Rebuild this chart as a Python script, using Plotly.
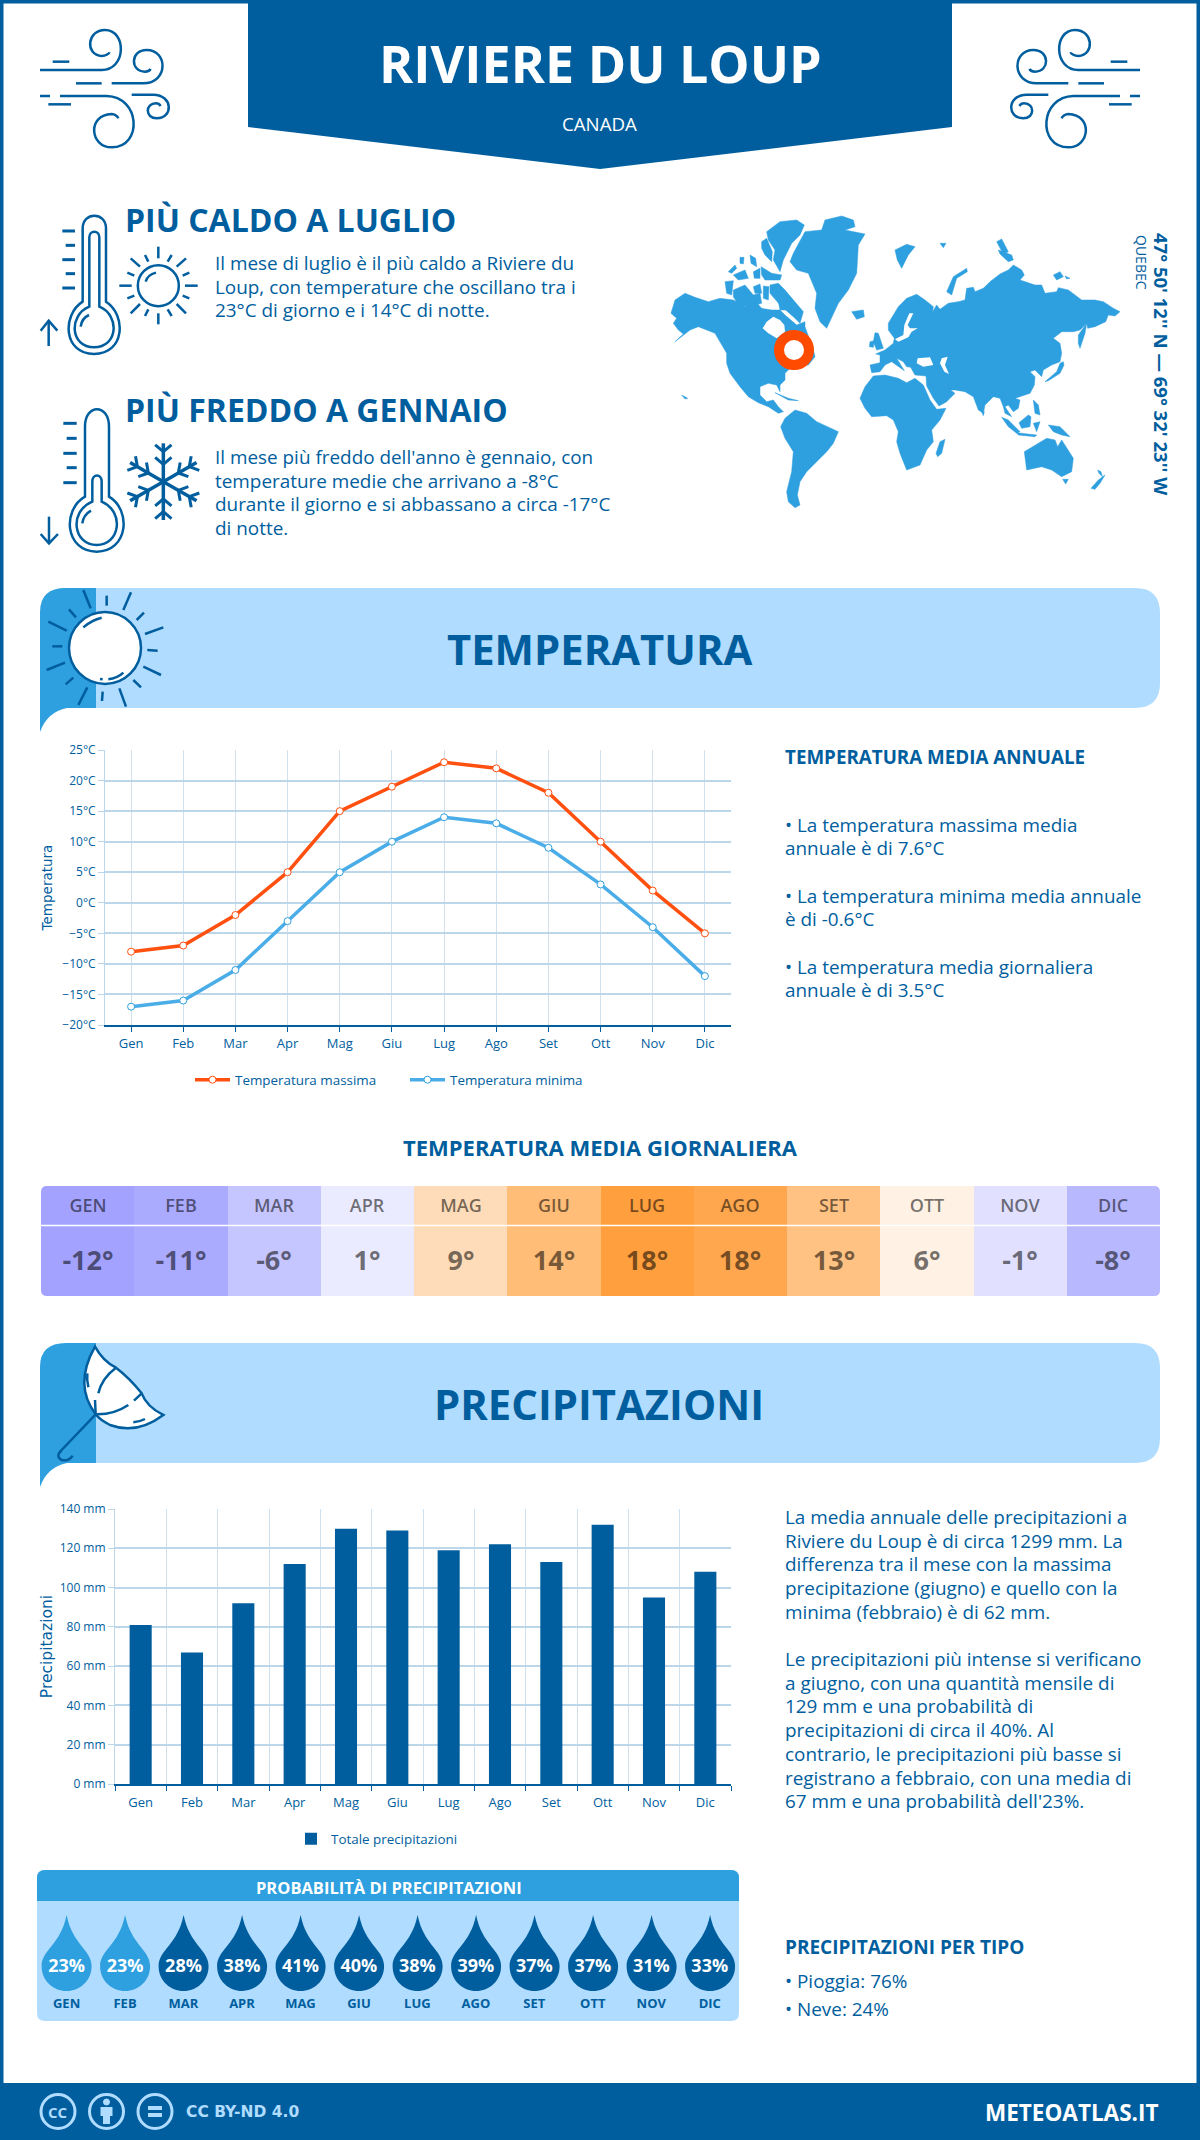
import math
import re
import plotly.graph_objects as go

W, H = 1200, 2140
BLUE = '#005e9e'
MID = '#2e9fdf'
LIGHT = '#b0dcff'
GRID = '#bcd6ea'
FONT = 'Open Sans'

months = ['Gen', 'Feb', 'Mar', 'Apr', 'Mag', 'Giu', 'Lug', 'Ago', 'Set', 'Ott', 'Nov', 'Dic']
months_upper = ['GEN', 'FEB', 'MAR', 'APR', 'MAG', 'GIU', 'LUG', 'AGO', 'SET', 'OTT', 'NOV', 'DIC']
temp_max = [-8, -7, -2, 5, 15, 19, 23, 22, 18, 10, 2, -5]
temp_min = [-17, -16, -11, -3, 5, 10, 14, 13, 9, 3, -4, -12]
temp_mean = [-12, -11, -6, 1, 9, 14, 18, 18, 13, 6, -1, -8]
cell_colors = ['#a3a3ff', '#aaaaff', '#c5c5ff', '#ebebff', '#ffdcb9', '#ffbd78',
               '#ff9f3e', '#ffa74e', '#ffc283', '#fff1e3', '#e1e1ff', '#b8b8ff']
rain_mm = [81, 67, 92, 112, 130, 129, 119, 122, 113, 132, 95, 108]
rain_prob = [23, 23, 28, 38, 41, 40, 38, 39, 37, 37, 31, 33]


def X(x):
    return x / W


def Y(y):
    return 1 - y / H


# path written in zoomed crop coordinates -> paper coordinates
def conv(d, ox=0, oy=0, s=1, mirror=None):
    def rep(m):
        x = ox + float(m.group(1)) / s
        y = oy + float(m.group(2)) / s
        if mirror is not None:
            x = mirror - x
        return f'{X(x):.5f},{Y(y):.5f}'
    return re.sub(r'(-?[\d.]+),(-?[\d.]+)', rep, d)


shapes = []
annotations = []


def fill(d, color, ox=0, oy=0, s=1, layer='below'):
    shapes.append(dict(type='path', xref='paper', yref='paper', path=conv(d, ox, oy, s),
                       fillcolor=color, line=dict(width=0), layer=layer))


def stroke(d, ox=0, oy=0, s=1, width=2.5, color=BLUE, bg=None, mirror=None):
    shapes.append(dict(type='path', xref='paper', yref='paper', path=conv(d, ox, oy, s, mirror),
                       fillcolor=bg if bg else 'rgba(0,0,0,0)', line=dict(color=color, width=width),
                       layer='below'))


def circle(cx, cy, r, width=2.5, color=BLUE, bg='rgba(0,0,0,0)', layer='below'):
    shapes.append(dict(type='circle', xref='paper', yref='paper', x0=X(cx - r), x1=X(cx + r),
                       y0=Y(cy + r), y1=Y(cy - r), fillcolor=bg, line=dict(color=color, width=width),
                       layer=layer))


def txt(x, y, text, size=18.9, color=BLUE, weight=400, anchor='left', angle=0, family=FONT):
    annotations.append(dict(xref='paper', yref='paper', x=X(x), y=Y(y), text=text, showarrow=False,
                            xanchor=anchor, yanchor='middle', align=anchor,
                            textangle=angle, borderpad=0, borderwidth=0,
                            font=dict(family=family, size=size, color=color, weight=weight)))


# paragraph, one annotation per line so the line step can follow the picture
def para(x, y, lines, step=23.6):
    for i, line in enumerate(lines):
        txt(x, y + i * step, line)


def segs(lines, ox, oy, s, width=2.5):
    for a, b in lines:
        stroke(f'M{a[0]},{a[1]} L{b[0]},{b[1]}', ox, oy, s, width)


def rrect(x0, y0, x1, y1, r):
    return (f'M{x0 + r},{y0} L{x1 - r},{y0} Q{x1},{y0} {x1},{y0 + r} L{x1},{y1 - r} Q{x1},{y1} {x1 - r},{y1} '
            f'L{x0 + r},{y1} Q{x0},{y1} {x0},{y1 - r} L{x0},{y0 + r} Q{x0},{y0} {x0 + r},{y0} Z')


# page header
fill('M248,0 L952,0 L952,127 L600,169 L248,127 Z', BLUE)
txt(600, 62, 'RIVIERE DU LOUP', 52, 'white', 700, 'center')
txt(599, 123, 'CANADA', 18.7, 'white', 400, 'center')

wind = [
    'M30,150 L215,150 C290,150 290,30 225,30 C170,30 165,105 215,108 C228,108 238,100 238,97',
    'M68,125 L118,125',
    'M245,190 L340,190 C415,190 415,90 350,90 C300,90 300,155 345,155 C352,155 360,150 362,147',
    'M138,190 L215,190',
    'M30,228 L60,228',
    'M90,228 L230,228 C330,230 340,380 245,382 C180,382 170,285 245,282 C255,282 263,290 265,295',
    'M55,253 L123,253',
    'M305,224 L370,224 C430,225 430,295 380,295 C345,295 345,250 378,250 C385,250 390,255 392,258',
]
for d in wind:
    stroke(d, 30, 20, 3)
    stroke(d, 30, 20, 3, mirror=1180)

# thermometers
hot = [
    'M158,305 L158,85 C158,35 228,35 228,85 L228,305 C290,345 285,462 192,462 C100,462 95,345 158,305 Z',
    'M178,320 L178,112 C178,90 208,90 208,112 L208,320 C270,345 265,442 192,442 C120,442 115,345 178,320 Z',
    'M152,380 Q155,355 177,345',
    'M56,438 L56,362', 'M32,392 L56,362 L82,392',
    'M347,245 Q352,225 378,218',
]
cold = [
    'M165,890 L165,680 C165,610 237,610 237,680 L237,890 C305,930 295,1055 200,1055 C105,1055 95,930 165,890 Z',
    'M187,905 L187,845 C187,820 215,820 215,845 L215,905 C285,935 270,1035 200,1035 C130,1035 115,935 187,905 Z',
    'M157,970 Q160,945 183,932',
    'M57,1030 L57,950', 'M32,1002 L57,1030 L84,1002',
]
for d in hot + cold:
    stroke(d, 30, 200, 3)
segs([((97, 93), (135, 93)), ((107, 136), (135, 136)), ((97, 179), (135, 179)), ((107, 221), (135, 221)),
      ((97, 264), (135, 264)), ((100, 670), (140, 670)), ((110, 715), (140, 715)), ((100, 760), (140, 760)),
      ((110, 803), (140, 803)), ((100, 848), (140, 848))], 30, 200, 3, 3)
circle(30 + 385 / 3, 200 + 257 / 3, 20.5)
segs([((385, 140), (385, 175)), ((385, 340), (385, 373)), ((268, 257), (305, 257)), ((465, 257), (503, 257)),
      ((302, 175), (330, 200)), ((468, 175), (440, 200)), ((302, 340), (330, 312)), ((468, 340), (440, 312)),
      ((345, 165), (355, 185)), ((425, 165), (413, 185)), ((292, 218), (313, 227)), ((478, 218), (458, 227)),
      ((292, 295), (313, 287)), ((478, 295), (458, 287)), ((345, 348), (355, 328)), ((425, 348), (413, 328))],
     30, 200, 3)

# snowflake
for k in range(6):
    a = math.radians(90 + 60 * k)
    ca, sa = math.cos(a), math.sin(a)
    cx, cy = 400, 845
    stroke(f'M{cx},{cy} L{cx + 115 * ca:.1f},{cy - 115 * sa:.1f}', 30, 200, 3, 3.5)
    for dist, arm in ((90, 32), (52, 32)):
        bx, by = cx + dist * ca, cy - dist * sa
        for off in (-50, 50):
            t = a + math.radians(off)
            stroke(f'M{bx:.1f},{by:.1f} L{bx + arm * math.cos(t):.1f},{by - arm * math.sin(t):.1f}', 30, 200, 3, 3)

txt(125, 219.5, 'PIÙ CALDO A LUGLIO', 32, BLUE, 700)
para(215, 263, ['Il mese di luglio è il più caldo a Riviere du',
                'Loup, con temperature che oscillano tra i',
                '23°C di giorno e i 14°C di notte.'])
txt(125, 410, 'PIÙ FREDDO A GENNAIO', 32, BLUE, 700)
para(215, 457, ["Il mese più freddo dell'anno è gennaio, con",
                'temperature medie che arrivano a -8°C',
                'durante il giorno e si abbassano a circa -17°C',
                'di notte.'])

# world map, outlines traced on 3x crops, each list has its crop origin
land_americas = [
    [(18, 310), (30, 270), (60, 250), (90, 262), (130, 275), (165, 265), (205, 270), (240, 290), (275, 278), (290, 295),
     (320, 300), (345, 300), (360, 315), (395, 345), (420, 335), (420, 350), (445, 420), (450, 440), (430, 465),
     (380, 470), (360, 490), (360, 510), (345, 525), (345, 545), (335, 525), (310, 520), (285, 530), (285, 555),
     (305, 575), (325, 570), (340, 590), (355, 605), (340, 610), (310, 590), (280, 578), (250, 560), (225, 530),
     (195, 490), (185, 460), (185, 430), (150, 370), (100, 350), (75, 360), (30, 395), (55, 372), (40, 360),
     (25, 340), (35, 325)],
    [(385, 130), (420, 65), (470, 60), (480, 30), (530, 18), (565, 30), (570, 50), (540, 60), (600, 72), (580, 105),
     (575, 190), (550, 240), (520, 280), (495, 330), (485, 355), (465, 335), (450, 295), (455, 250), (430, 190),
     (395, 180), (375, 155)],
    [(305, 65), (345, 35), (395, 30), (418, 45), (405, 75), (380, 100), (355, 150), (345, 185), (325, 150), (330, 120),
     (310, 90)],
    [(290, 95), (305, 85), (322, 125), (320, 155), (300, 135), (290, 115)],
    [(315, 225), (340, 220), (360, 240), (385, 270), (415, 305), (405, 340), (385, 320), (345, 285), (315, 250)],
    [(205, 240), (240, 225), (265, 255), (285, 250), (290, 280), (250, 290), (220, 285), (205, 260)],
    [(180, 215), (205, 212), (200, 255), (185, 250)],
    [(190, 185), (210, 165), (215, 175), (200, 190)],
    [(205, 195), (240, 180), (250, 205), (220, 210)],
    [(265, 185), (285, 175), (285, 205), (268, 205)],
    [(255, 135), (272, 145), (275, 170), (258, 160)],
    [(225, 142), (237, 142), (235, 162), (225, 160)],
    [(288, 170), (320, 190), (350, 195), (345, 210), (300, 210), (290, 195)],
    [(265, 230), (285, 222), (290, 250), (270, 250)],
    [(295, 228), (312, 230), (310, 270), (295, 265)],
    [(340, 275), (370, 280), (375, 300), (345, 300)],
    [(560, 305), (595, 300), (598, 320), (575, 328)],
    [(50, 555), (68, 565), (60, 567)],
    [(330, 548), (370, 565), (400, 572), (370, 570)],
]
land_south = [
    [(362, 665), (375, 640), (405, 615), (440, 625), (470, 650), (500, 665), (535, 680), (520, 715), (500, 740),
     (470, 770), (440, 800), (420, 830), (412, 870), (420, 900), (405, 908), (385, 890), (380, 860), (395, 800),
     (400, 740), (375, 700)],
    [(705, 135), (740, 118), (765, 125), (745, 150), (725, 190), (712, 165)],
    [(840, 115), (858, 115), (850, 128)],
    [(1010, 110), (1025, 102), (1045, 140), (1030, 148)],
]
land_old_world = [
    [(15, 345), (45, 338), (45, 315), (32, 312), (60, 300), (85, 280), (88, 265), (70, 240), (70, 220), (100, 170),
     (125, 145), (155, 133), (180, 150), (205, 170), (203, 185), (215, 165), (225, 178), (250, 160), (280, 155),
     (300, 150), (305, 115), (325, 112), (330, 125), (355, 115), (375, 95), (405, 72), (430, 60), (445, 45),
     (470, 60), (478, 75), (465, 90), (510, 105), (530, 105), (540, 130), (575, 125), (580, 113), (610, 120),
     (650, 150), (690, 150), (715, 155), (745, 175), (765, 185), (750, 198), (730, 195), (722, 215), (690, 230),
     (668, 235), (665, 220), (645, 240), (625, 245), (590, 245), (565, 265), (585, 280), (590, 310), (585, 335),
     (560, 345), (535, 360), (530, 380), (510, 360), (495, 365), (510, 380), (508, 405), (495, 430), (465, 440),
     (450, 445), (465, 450), (460, 475), (445, 485), (430, 465), (420, 470), (440, 500), (420, 490), (415, 470),
     (405, 445), (385, 440), (360, 465), (355, 490), (340, 480), (325, 440), (300, 425), (270, 420), (245, 420),
     (232, 402), (270, 430), (245, 455), (222, 468), (205, 445), (185, 408), (183, 378), (150, 375), (137, 352),
     (125, 350), (115, 335), (95, 325), (118, 362), (80, 335), (60, 345), (45, 365), (20, 368)],
    [(-15, 445), (0, 410), (25, 378), (60, 375), (100, 385), (125, 398), (150, 385), (175, 405), (195, 450),
     (215, 478), (243, 475), (225, 510), (200, 540), (205, 575), (185, 600), (165, 645), (125, 660), (105, 610),
     (95, 575), (100, 545), (85, 510), (65, 497), (20, 500), (0, 475)],
    [(213, 610), (225, 575), (240, 568), (230, 610), (218, 620)],
    [(30, 248), (40, 250), (55, 295), (35, 300), (25, 275)],
    [(15, 275), (28, 272), (25, 292), (13, 290)],
    [(245, 125), (265, 80), (305, 55), (307, 65), (275, 85), (260, 135)],
    [(400, 0), (425, 10), (440, 15), (445, 30), (430, 35), (405, 12)],
    [(565, 75), (585, 65), (595, 80), (575, 90)],
    [(600, 78), (615, 85), (605, 87)],
    [(640, 280), (640, 255), (665, 220), (660, 250), (645, 295)],
    [(540, 395), (575, 365), (585, 340), (595, 335), (597, 345), (585, 370), (550, 392)],
    [(410, 502), (430, 510), (465, 545), (455, 550), (430, 530)],
    [(455, 548), (515, 555), (510, 560), (460, 555)],
    [(462, 518), (490, 495), (498, 500), (495, 530), (470, 535)],
    [(505, 520), (525, 515), (515, 545)],
    [(505, 450), (520, 465), (525, 495), (510, 490)],
    [(550, 525), (585, 530), (615, 560), (590, 555), (565, 545)],
    [(478, 605), (520, 580), (545, 565), (570, 570), (578, 590), (590, 570), (625, 625), (620, 665), (590, 680),
     (560, 660), (530, 650), (485, 660)],
    [(593, 688), (610, 688), (602, 702)],
    [(678, 715), (700, 690), (720, 675), (705, 700), (690, 718)],
    [(698, 660), (708, 665), (712, 680), (702, 670)],
    [(350, 485), (358, 485), (355, 497)],
]
seas_old_world = [
    [(133, 190), (145, 190), (128, 225), (135, 235), (158, 235), (140, 245), (130, 262), (100, 275), (90, 268),
     (115, 255), (118, 225)],
    [(158, 325), (195, 322), (205, 345), (175, 350), (155, 340)],
    [(230, 325), (248, 320), (240, 345), (252, 372), (238, 365), (225, 340)],
]
seas_americas = [
    [(293, 355), (305, 335), (325, 320), (345, 330), (358, 345), (360, 365), (335, 385), (310, 370)],
]


# polygons into one None separated trace, in page pixels
def outline(groups):
    xs, ys = [], []
    for polys, ox, oy in groups:
        for poly in polys:
            xs += [ox + p[0] / 3 for p in poly] + [ox + poly[0][0] / 3, None]
            ys += [oy + p[1] / 3 for p in poly] + [oy + poly[0][1] / 3, None]
    return xs, ys


circle(794, 350, 15, 10, '#ff4b00', 'white', 'above')
txt(1162, 364, "47° 50' 12'' N — 69° 32' 23'' W", 18.5, BLUE, 700, 'center', 90)
txt(1142, 262, 'QUEBEC', 14, BLUE, 400, 'center', 90)


# section bands
def band(top, title):
    bot = top + 120
    fill(f'M96,{top} L1135,{top} Q1160,{top} 1160,{top + 25} L1160,{bot - 25} Q1160,{bot} 1135,{bot} L96,{bot} Z', LIGHT)
    fill(f'M96,{top} L96,{bot} L67,{bot} Q47,{bot + 4} 40,{bot + 24} L40,{top + 24} Q40,{top} 66,{top} Z', MID)
    txt(599, top + 60, title, 41.8, BLUE, 700, 'center')


band(588, 'TEMPERATURA')
band(1343, 'PRECIPITAZIONI')

circle(105, 648, 36, 2.5, BLUE, 'white')
segs([((160, 15), (182, 70)), ((230, 32), (230, 62)), ((303, 22), (280, 75)), ((342, 83), (320, 105)),
      ((400, 127), (345, 147)), ((352, 195), (383, 197)), ((340, 245), (393, 270)), ((310, 285), (333, 307)),
      ((268, 310), (288, 365)), ((218, 320), (216, 348)), ((172, 307), (145, 360)), ((130, 278), (107, 298)),
      ((105, 233), (50, 255)), ((97, 184), (67, 184)), ((110, 137), (55, 110)), ((138, 97), (117, 73)),
      ((210, 282), (218, 283))], 30, 585, 3)
stroke('M160,127 Q185,105 215,98', 30, 585, 3)
stroke('M235,283 Q262,280 280,263', 30, 585, 3)

stroke('M195,35 Q220,80 258,98 Q300,130 335,175 Q350,215 400,240 Q320,300 240,270 Q210,255 197,238 Q130,150 195,35 Z',
       30, 1335, 3, 2.5, BLUE, 'white')
for d in ['M258,98 Q215,130 205,175', 'M195,195 L197,238', 'M197,238 Q250,240 295,210', 'M312,197 L335,175',
          'M172,115 Q170,135 175,157', 'M310,262 Q330,260 345,252',
          'M197,238 L95,345 Q75,365 95,375 Q115,380 128,362']:
    stroke(d, 30, 1335, 3)

txt(785, 757, 'TEMPERATURA MEDIA ANNUALE', 18.8, BLUE, 700)
para(785, 825, ['• La temperatura massima media', 'annuale è di 7.6°C'], 23)
para(785, 896, ['• La temperatura minima media annuale', 'è di -0.6°C'], 23)
para(785, 967, ['• La temperatura media giornaliera', 'annuale è di 3.5°C'], 23)

txt(600, 1147, 'TEMPERATURA MEDIA GIORNALIERA', 22, BLUE, 700, 'center')

para(785, 1517, ['La media annuale delle precipitazioni a',
                 'Riviere du Loup è di circa 1299 mm. La',
                 'differenza tra il mese con la massima',
                 'precipitazione (giugno) e quello con la',
                 'minima (febbraio) è di 62 mm.'], 23.7)
para(785, 1659, ['Le precipitazioni più intense si verificano',
                 'a giugno, con una quantità mensile di',
                 '129 mm e una probabilità di',
                 'precipitazioni di circa il 40%. Al',
                 'contrario, le precipitazioni più basse si',
                 'registrano a febbraio, con una media di',
                 "67 mm e una probabilità dell'23%."], 23.7)

# probability panel
fill(rrect(37, 1870, 739, 2021, 8), LIGHT)
fill('M37,1901 L37,1878 Q37,1870 45,1870 L731,1870 Q739,1870 739,1878 L739,1901 Z', MID)
txt(389, 1887, 'PROBABILITÀ DI PRECIPITAZIONI', 16.5, 'white', 700, 'center')
for i, p in enumerate(rain_prob):
    cx = 66.6 + 58.5 * i
    color = MID if p < 25 else BLUE
    fill(f'M{cx:.1f},1915 C{cx + 6:.1f},1945 {cx + 25:.1f},1950 {cx + 25:.1f},1966 '
         f'C{cx + 25:.1f},1981 {cx + 13:.1f},1991 {cx:.1f},1991 '
         f'C{cx - 13:.1f},1991 {cx - 25:.1f},1981 {cx - 25:.1f},1966 '
         f'C{cx - 25:.1f},1950 {cx - 6:.1f},1945 {cx:.1f},1915 Z', color)

txt(785, 1947, 'PRECIPITAZIONI PER TIPO', 19, BLUE, 700)
txt(785, 1981, '• Pioggia: 76%')
txt(785, 2009, '• Neve: 24%')

# footer and page frame
fill('M0,2083 L1200,2083 L1200,2140 L0,2140 Z', BLUE)
shapes.append(dict(type='rect', xref='paper', yref='paper', x0=0, x1=1, y0=0, y1=1,
                   line=dict(color=BLUE, width=7), fillcolor='rgba(0,0,0,0)', layer='below'))
for cx in (58, 106.5, 155):
    circle(cx, 2111.5, 17, 3, LIGHT)
txt(58, 2112, 'CC', 15, LIGHT, 700, 'center')
circle(106.5, 2102, 3, 1, LIGHT, LIGHT)
fill('M100.5,2107 L112.5,2107 L112.5,2116 L110,2116 L110,2124 L103,2124 L103,2116 L100.5,2116 Z', LIGHT)
fill('M148,2106 L162,2106 L162,2110 L148,2110 Z', LIGHT)
fill('M148,2113 L162,2113 L162,2117 L148,2117 Z', LIGHT)
txt(186, 2112, 'CC BY-ND 4.0', 15.5, LIGHT, 700, family='DejaVu Sans')
txt(1158, 2112, 'METEOATLAS.IT', 22.5, 'white', 700, 'right')

fig = go.Figure()

land_x, land_y = outline([(land_americas, 665, 210), (land_south, 660, 205), (land_old_world, 865, 250)])
sea_x, sea_y = outline([(seas_old_world, 865, 250), (seas_americas, 665, 210)])
fig.add_trace(go.Scatter(x=land_x, y=land_y, mode='lines', fill='toself', fillcolor=MID,
                         line=dict(width=0.5, color=MID),
                         showlegend=False, hoverinfo='skip', xaxis='x5', yaxis='y5'))
fig.add_trace(go.Scatter(x=sea_x, y=sea_y, mode='lines', fill='toself', fillcolor='white', line=dict(width=0),
                         showlegend=False, hoverinfo='skip', xaxis='x5', yaxis='y5'))

fig.add_trace(go.Scatter(x=months, y=temp_max, name='Temperatura massima', mode='lines+markers',
                         line=dict(color='#ff5010', width=3.5),
                         marker=dict(size=7, color='white', line=dict(color='#ff5010', width=1)),
                         xaxis='x', yaxis='y', legend='legend'))
fig.add_trace(go.Scatter(x=months, y=temp_min, name='Temperatura minima', mode='lines+markers',
                         line=dict(color='#4bade8', width=3.5),
                         marker=dict(size=7, color='white', line=dict(color='#2e9fdf', width=1)),
                         xaxis='x', yaxis='y', legend='legend'))

fig.add_trace(go.Bar(x=months, y=rain_mm, name='Totale precipitazioni', width=0.43,
                     marker=dict(color=BLUE, line=dict(width=0)),
                     xaxis='x2', yaxis='y2', legend='legend2'))

# daily mean table, header row then value row
scale = [[i / 11, c] for i, c in enumerate(cell_colors)]
index_row = [list(range(12))]
fig.add_trace(go.Heatmap(z=index_row, x=months_upper, y=[0, 39], text=[months_upper], texttemplate='%{text}',
                         colorscale=scale, zmin=0, zmax=11, showscale=False, hoverinfo='skip',
                         textfont=dict(family=FONT, size=18, color='rgba(0,0,0,0.55)', weight=600),
                         xaxis='x3', yaxis='y3'))
fig.add_trace(go.Heatmap(z=index_row, x=months_upper, y=[39, 110], text=[[f'{t}°' for t in temp_mean]],
                         texttemplate='%{text}', colorscale=scale, zmin=0, zmax=11, showscale=False,
                         hoverinfo='skip',
                         textfont=dict(family=FONT, size=27, color='rgba(0,0,0,0.55)', weight=700),
                         xaxis='x3', yaxis='y3'))

# white line between the rows and rounded table corners
shapes.append(dict(type='line', xref='paper', yref='paper', x0=X(41), x1=X(1160), y0=Y(1225.5), y1=Y(1225.5),
                   line=dict(color='white', width=1.5), layer='above'))
for cx, cy, dx, dy in ((41, 1186, 1, 1), (1160, 1186, -1, 1), (41, 1296, 1, -1), (1160, 1296, -1, -1)):
    fill(f'M{cx},{cy} L{cx + 6 * dx},{cy} Q{cx},{cy} {cx},{cy + 6 * dy} Z', 'white', layer='above')

# labels over the drops
fig.add_trace(go.Scatter(x=list(range(12)), y=[66] * 12, mode='text', text=[f'{p}%' for p in rain_prob],
                         textfont=dict(family=FONT, size=18, color='white', weight=700),
                         showlegend=False, hoverinfo='skip', xaxis='x4', yaxis='y4'))
fig.add_trace(go.Scatter(x=list(range(12)), y=[104] * 12, mode='text', text=months_upper,
                         textfont=dict(family=FONT, size=13, color=BLUE, weight=700),
                         showlegend=False, hoverinfo='skip', xaxis='x4', yaxis='y4'))

x_tick_font = dict(family=FONT, size=13, color=BLUE)
y_tick_font = dict(family=FONT, size=12, color=BLUE)


def xax(x0, x1, anchor, tickson='labels', label_gap=0):
    return dict(domain=[X(x0), X(x1)], anchor=anchor, type='category', categoryorder='array',
                categoryarray=months, range=[-0.5, 11.5], showgrid=True, gridcolor='#cfe1ef', gridwidth=1,
                showline=True, linecolor=BLUE, linewidth=2, ticks='outside', ticklen=5, tickcolor=BLUE,
                tickson=tickson, tickfont=x_tick_font, ticklabelstandoff=label_gap, zeroline=False, fixedrange=True)


def yax(top, bottom, anchor, rng, dtick, suffix, title, standoff, title_size):
    return dict(domain=[Y(bottom), Y(top)], anchor=anchor, range=rng, dtick=dtick, ticksuffix=suffix,
                showgrid=True, gridcolor=GRID, gridwidth=1.5, zeroline=False, showline=True,
                linecolor=GRID, linewidth=1, ticks='outside', ticklen=6, tickcolor=GRID, tickfont=y_tick_font,
                title=dict(text=title, font=dict(family='DejaVu Sans', size=title_size, color=BLUE),
                           standoff=standoff), fixedrange=True)


legend_style = dict(orientation='h', xanchor='left', yanchor='middle', bgcolor='rgba(0,0,0,0)',
                    font=dict(family=FONT, size=13.4, color=BLUE))

fig.update_layout(
    width=W, height=H, autosize=False,
    margin=dict(l=0, r=0, t=0, b=0, autoexpand=False),
    paper_bgcolor='white', plot_bgcolor='rgba(0,0,0,0)',
    font=dict(family=FONT, color=BLUE),
    shapes=shapes, annotations=annotations,
    xaxis=xax(105, 731, 'y'),
    yaxis=yax(750, 1025, 'x', [-20, 25], 5, '°C', 'Temperatura', 6, 13.5),
    xaxis2=xax(115, 731, 'y2', 'boundaries', 5),
    yaxis2=yax(1509, 1784, 'x2', [0, 140], 20, ' mm', 'Precipitazioni', 3, 15.5),
    xaxis3=dict(domain=[X(41), X(1160)], anchor='y3', visible=False, range=[-0.5, 11.5], fixedrange=True),
    yaxis3=dict(domain=[Y(1296), Y(1186)], anchor='x3', visible=False, range=[110, 0], fixedrange=True),
    xaxis4=dict(domain=[X(37.35), X(739)], anchor='y4', visible=False, range=[-0.5, 11.5], fixedrange=True),
    yaxis4=dict(domain=[Y(2021), Y(1901)], anchor='x4', visible=False, range=[120, 0], fixedrange=True),
    xaxis5=dict(domain=[X(660), X(1180)], anchor='y5', visible=False, range=[660, 1180], fixedrange=True),
    yaxis5=dict(domain=[Y(525), Y(205)], anchor='x5', visible=False, range=[525, 205], fixedrange=True),
    legend=dict(x=X(190), y=Y(1080), itemwidth=35, entrywidth=165, **legend_style),
    legend2=dict(x=X(291), y=Y(1839), itemwidth=30, **legend_style),
    bargap=0.57,
)

fig.write_html('out.html', config=dict(displayModeBar=False), post_script="document.body.style.margin='0';")
